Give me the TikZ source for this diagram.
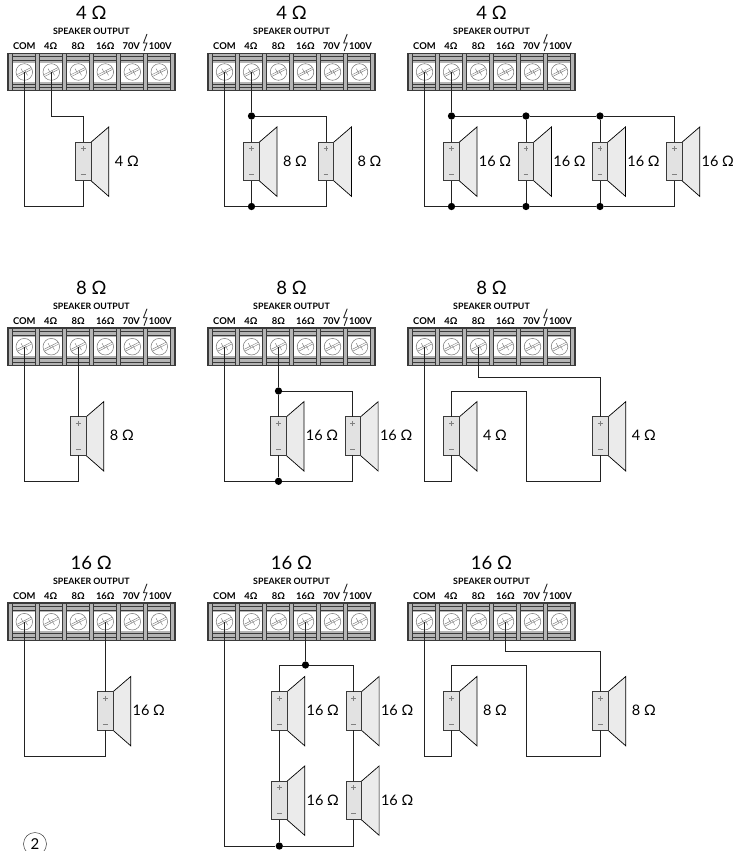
\documentclass[tikz,border=0pt]{standalone}
\usepackage{fontspec}
\setmainfont{Lato}
\definecolor{wirecol}{HTML}{222222}
\definecolor{stripcol}{HTML}{3A3A3A}
\definecolor{bandcol}{HTML}{B4B4B4}
\definecolor{conecol}{HTML}{EBEBEB}
\definecolor{boxcol}{HTML}{E2E2E2}
\definecolor{screwcol}{HTML}{777777}
\newcommand{\sizeA}{\fontsize{18.5}{20}\selectfont}
\newcommand{\sizeB}{\fontsize{14.5}{16}\selectfont}
\newcommand{\sizeC}{\bfseries\fontsize{8.8}{10}\selectfont}
\newcommand{\sizeD}{\bfseries\fontsize{9.4}{10}\selectfont}
\tikzset{
    wire/.style={draw=wirecol, line width=1pt},
    jdot/.style={circle, fill=black, inner sep=0pt, minimum size=7.3pt},
    termstrip/.pic={
        \fill[bandcol] (0,0) rectangle (168,37.4);
        \foreach \yy in {3.4,7,30.7,34.4}
            \draw[stripcol, line width=0.6pt] (0,\yy) -- (168,\yy);
        \fill[white] (0,9.4) rectangle (168,28.4);
        \foreach \xx in {3,30,...,165}
            \draw[stripcol, fill=bandcol, line width=0.7pt] (\xx-2,0) rectangle (\xx+2,37.4);
        \draw[stripcol, line width=1.1pt] (0,0) rectangle (168,37.4);
        \foreach \n [count=\i from 0] in {com,t4,t8,t16,t70,t100} {
            \coordinate (-\n) at (17+27*\i,18.7);
            \begin{scope}[shift={(-\n)}]
                \draw[screwcol, line width=0.5pt, fill=white] (0,0) circle (8.3);
                \draw[screwcol, line width=0.4pt] (-7.2,2.6) -- (6.6,-4.4) (-6.6,4.4) -- (7.2,-2.6);
                \draw[screwcol, line width=0.4pt] (-3.2,-3.4) -- (-0.9,1) (0.9,-1) -- (3.2,3.4);
            \end{scope}
        }
        \node[font=\sizeA] (-title) at (84,-40) {#1};
        \node[font=\sizeC] (-head) at (84,-22) {SPEAKER OUTPUT};
        \foreach \n/\l/\xx in {com/COM/17,t4/4Ω/43.5,t8/8Ω/71,t16/16Ω/98,t70/70V/124,t100/100V/153}
            \node[font=\sizeD] (-l\n) at (\xx,-7.3) {\l};
        \draw[wirecol, line width=0.9pt] (139.7,-19.3) -- (136.2,-10.3) -- (139.7,-10.3) -- (136.7,-2.3);
    },
    speaker/.pic={
        \draw[draw=black, line width=0.7pt, fill=conecol] (7.4,0.5) -- (25.4,-15) -- (25.4,54.3) -- (7.4,38.5) -- cycle;
        \draw[draw=stripcol, line width=1pt, fill=boxcol] (-7.7,0) rectangle (7.7,38.6);
        \draw[gray, line width=0.6pt] (-2.4,6.6) -- (2.4,6.6) (0,4.2) -- (0,9);
        \draw[gray, line width=0.6pt] (-2.4,32.6) -- (2.4,32.6);
        \coordinate (-top) at (0,0);
        \coordinate (-bot) at (0,38.6);
        \node[font=\sizeB] (-val) at (43.5,19) {#1};
    },
}
\begin{document}
\begin{tikzpicture}[x=1pt, y=-1pt]
    \useasboundingbox (0,0) rectangle (746,851);
    \pic (a1) at (7.3,53.3) {termstrip={4 Ω}};
    \pic (a2) at (207.5,53.3) {termstrip={4 Ω}};
    \pic (a3) at (407.5,53.3) {termstrip={4 Ω}};
    \pic (a4) at (7.3,328) {termstrip={8 Ω}};
    \pic (a5) at (207.5,328) {termstrip={8 Ω}};
    \pic (a6) at (407.5,328) {termstrip={8 Ω}};
    \pic (a7) at (7.3,603) {termstrip={16 Ω}};
    \pic (a8) at (207.5,603) {termstrip={16 Ω}};
    \pic (a9) at (407.5,603) {termstrip={16 Ω}};

    \foreach \n/\xx/\yy/\l in {s1/83.3/142/4 Ω, s2/251.5/142/8 Ω, s3/326/142/8 Ω, s4/451.5/142/16 Ω,
            s5/526/142/16 Ω, s6/600/142/16 Ω, s7/674.3/142/16 Ω, s8/78.3/416.7/8 Ω, s9/278.5/416.7/16 Ω,
            s10/352.7/416.7/16 Ω, s11/451.5/416.7/4 Ω, s12/600.3/416.7/4 Ω, s13/105.3/691.5/16 Ω,
            s14/279.3/691.5/16 Ω, s15/353.7/691.5/16 Ω, s16/279.3/781/16 Ω, s17/353.7/781/16 Ω,
            s18/451.5/691.5/8 Ω, s19/600.3/691.5/8 Ω}
        \pic (\n) at (\xx,\yy) {speaker={\l}};

    \foreach \n/\xx/\yy in {j1/251.5/116, j2/251.5/206.5, j3/451.5/116, j4/526/116, j5/600/116, j6/451.5/206.5,
            j7/526/206.5, j8/600/206.5, j9/278.5/391, j10/278.5/481.3, j11/305.5/665, j12/279.3/846}
        \node[jdot] (\n) at (\xx,\yy) {};
    \foreach \n/\xx/\yy in {c1/83.3/116, b1/83.3/206.5, b4/78.3/481.3, c6/600.3/377, d6/526/391, f6/526/481.3,
            e6/451.5/481.3, b7/105.3/756, c9/600.3/651.7, d9/526/665, f9/526/756, e9/451.5/756}
        \coordinate (\n) at (\xx,\yy);

    \draw[wire] (a1-t4) |- (c1) -- (s1-top);
    \draw[wire] (a1-com) |- (b1) -- (s1-bot);

    \draw[wire] (a2-t4) -- (j1) -- (s2-top);
    \draw[wire] (j1) -| (s3-top);
    \draw[wire] (a2-com) |- (j2) -- (s2-bot);
    \draw[wire] (j2) -| (s3-bot);

    \draw[wire] (a3-t4) -- (j3) -- (s4-top);
    \draw[wire] (j3) -- (j4) -- (j5) -| (s7-top);
    \draw[wire] (j4) -- (s5-top);
    \draw[wire] (j5) -- (s6-top);
    \draw[wire] (a3-com) |- (j6) -- (s4-bot);
    \draw[wire] (j6) -- (j7) -- (j8) -| (s7-bot);
    \draw[wire] (j7) -- (s5-bot);
    \draw[wire] (j8) -- (s6-bot);

    \draw[wire] (a4-t8) -- (s8-top);
    \draw[wire] (a4-com) |- (b4) -- (s8-bot);

    \draw[wire] (a5-t8) -- (j9) -- (s9-top);
    \draw[wire] (j9) -| (s10-top);
    \draw[wire] (a5-com) |- (j10) -- (s9-bot);
    \draw[wire] (j10) -| (s10-bot);

    \draw[wire] (a6-t8) |- (c6) -- (s12-top);
    \draw[wire] (s11-top) |- (d6) -- (f6) -| (s12-bot);
    \draw[wire] (a6-com) |- (e6) -- (s11-bot);

    \draw[wire] (a7-t16) -- (s13-top);
    \draw[wire] (a7-com) |- (b7) -- (s13-bot);

    \draw[wire] (a8-t16) -- (j11);
    \draw[wire] (s14-top) |- (j11) -| (s15-top);
    \draw[wire] (s14-bot) -- (s16-top);
    \draw[wire] (s15-bot) -- (s17-top);
    \draw[wire] (a8-com) |- (j12) -- (s16-bot);
    \draw[wire] (j12) -| (s17-bot);

    \draw[wire] (a9-t16) |- (c9) -- (s19-top);
    \draw[wire] (s18-top) |- (d9) -- (f9) -| (s19-bot);
    \draw[wire] (a9-com) |- (e9) -- (s18-bot);

    \node[draw=stripcol, circle, line width=0.5pt, minimum size=23pt, inner sep=0pt, font=\fontsize{15}{16}\selectfont] (fignum) at (35,844) {2};
\end{tikzpicture}
\end{document}
